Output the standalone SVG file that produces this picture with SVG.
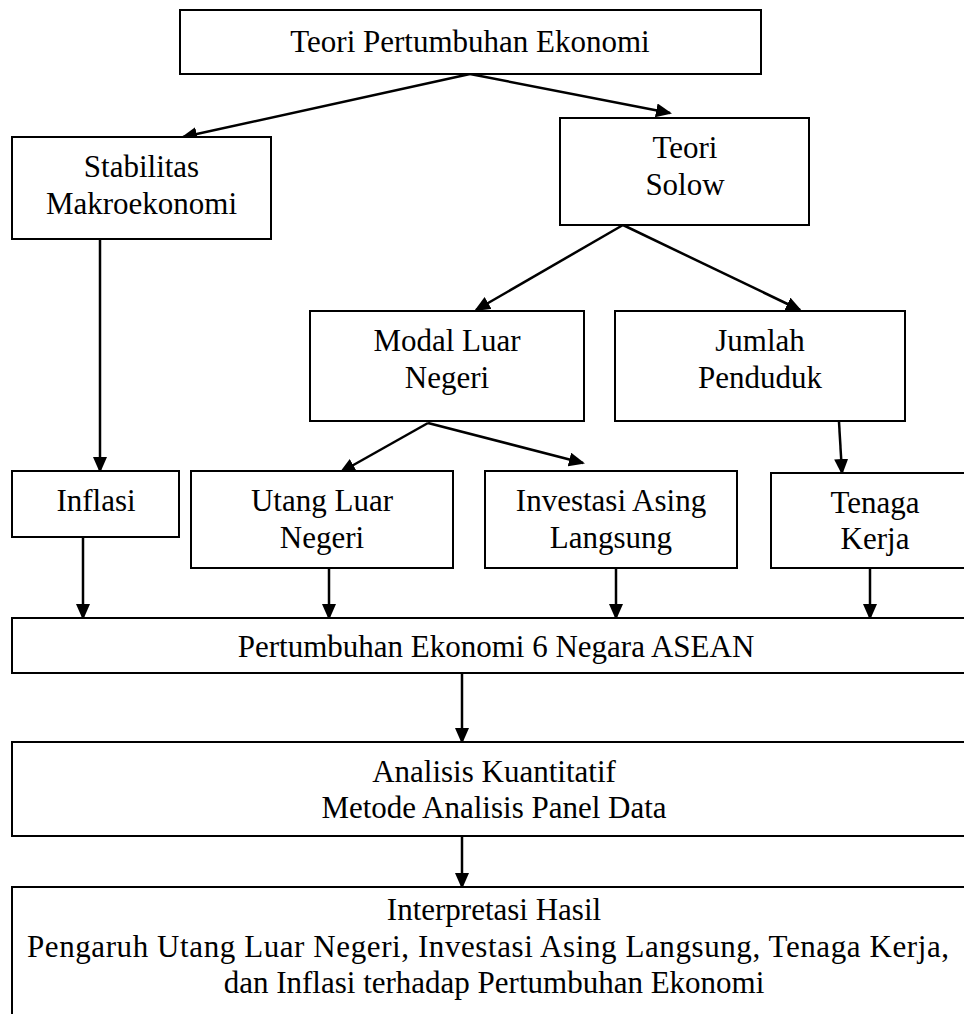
<svg xmlns="http://www.w3.org/2000/svg" width="964" height="1014" viewBox="0 0 964 1014">
<style>
.box{fill:#fff;stroke:#000;stroke-width:2}
.t{font-family:"Liberation Serif","Times New Roman",serif;font-size:31px;fill:#000;text-anchor:middle}
.c{stroke:#000;stroke-width:2.5;fill:none;marker-end:url(#ah)}
</style>
<defs>
<marker id="ah" markerUnits="userSpaceOnUse" markerWidth="17" markerHeight="15" refX="14" refY="7" orient="auto">
<path d="M0,0 L16,7 L0,14 z" fill="#000"/>
</marker>
</defs>
<rect width="964" height="1014" fill="#fff"/>
<g id="connectors">
<line class="c" x1="470" y1="74" x2="183" y2="137"/>
<line class="c" x1="470" y1="74" x2="670" y2="113"/>
<line class="c" x1="623" y1="225" x2="476" y2="310"/>
<line class="c" x1="623" y1="225" x2="800" y2="310"/>
<line class="c" x1="100" y1="239" x2="100" y2="471"/>
<line class="c" x1="428" y1="423" x2="341" y2="472"/>
<line class="c" x1="428" y1="423" x2="583" y2="463"/>
<line class="c" x1="839" y1="422" x2="842" y2="473"/>
<line class="c" x1="83" y1="537" x2="83" y2="618"/>
<line class="c" x1="329" y1="568" x2="329" y2="618"/>
<line class="c" x1="616" y1="568" x2="616" y2="618"/>
<line class="c" x1="870" y1="568" x2="870" y2="618"/>
<line class="c" x1="462" y1="673" x2="462" y2="742"/>
<line class="c" x1="462" y1="836" x2="462" y2="887"/>
</g>
<g id="teori-pertumbuhan">
<rect class="box" x="180" y="10" width="581" height="64"/>
<text class="t" x="470" y="52">Teori Pertumbuhan Ekonomi</text>
</g>
<g id="stabilitas">
<rect class="box" x="12" y="137" width="259" height="102"/>
<text class="t" x="141.5" y="177">Stabilitas</text>
<text class="t" x="141.5" y="214">Makroekonomi</text>
</g>
<g id="solow">
<rect class="box" x="560" y="118" width="249" height="107"/>
<text class="t" x="685" y="158">Teori</text>
<text class="t" x="685" y="195">Solow</text>
</g>
<g id="modal">
<rect class="box" x="310" y="311" width="274" height="110"/>
<text class="t" x="447" y="351">Modal Luar</text>
<text class="t" x="447" y="388">Negeri</text>
</g>
<g id="jumlah">
<rect class="box" x="615" y="311" width="290" height="110"/>
<text class="t" x="760" y="351">Jumlah</text>
<text class="t" x="760" y="388">Penduduk</text>
</g>
<g id="inflasi">
<rect class="box" x="12" y="471" width="167" height="66"/>
<text class="t" x="96" y="511">Inflasi</text>
</g>
<g id="utang">
<rect class="box" x="191" y="471" width="262" height="97"/>
<text class="t" x="322" y="511">Utang Luar</text>
<text class="t" x="322" y="548">Negeri</text>
</g>
<g id="investasi">
<rect class="box" x="485" y="471" width="252" height="97"/>
<text class="t" x="611" y="511">Investasi Asing</text>
<text class="t" x="611" y="548">Langsung</text>
</g>
<g id="tenaga">
<rect class="box" x="771" y="473" width="209" height="95"/>
<text class="t" x="875" y="513">Tenaga</text>
<text class="t" x="875" y="549">Kerja</text>
</g>
<g id="pertumbuhan-asean">
<rect class="box" x="12" y="618" width="975" height="55"/>
<text class="t" x="496" y="657">Pertumbuhan Ekonomi 6 Negara ASEAN</text>
</g>
<g id="analisis">
<rect class="box" x="12" y="742" width="975" height="94"/>
<text class="t" x="494" y="782">Analisis Kuantitatif</text>
<text class="t" x="494" y="818">Metode Analisis Panel Data</text>
</g>
<g id="interpretasi">
<rect class="box" x="12" y="887" width="975" height="200"/>
<text class="t" x="494" y="920">Interpretasi Hasil</text>
<text class="t" x="488" y="957" textLength="922" lengthAdjust="spacing">Pengaruh Utang Luar Negeri, Investasi Asing Langsung, Tenaga Kerja,</text>
<text class="t" x="494" y="993">dan Inflasi terhadap Pertumbuhan Ekonomi</text>
</g>
</svg>
